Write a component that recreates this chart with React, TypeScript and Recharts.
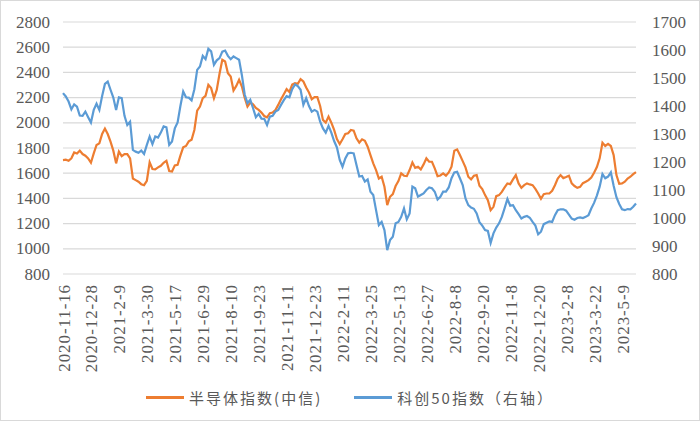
import { LineChart, Line, XAxis, YAxis, CartesianGrid, Legend } from "recharts";

// x tick labels, one every 10 samples (samples are ~3 trading days apart)
const tickDates = [
  "2020-11-16", "2020-12-28", "2021-2-9", "2021-3-30", "2021-5-17", "2021-6-29",
  "2021-8-10", "2021-9-23", "2021-11-11", "2021-12-23", "2022-2-11", "2022-3-25",
  "2022-5-13", "2022-6-27", "2022-8-8", "2022-9-20", "2022-11-8", "2022-12-20",
  "2023-2-8", "2023-3-22", "2023-5-9",
];
const tickPos = [0, 10, 20, 30, 40, 50, 60, 70, 80, 90, 100, 110, 120, 130, 140, 150, 160, 170, 180, 190, 200];

const leftTicks = [800, 1000, 1200, 1400, 1600, 1800, 2000, 2200, 2400, 2600, 2800];
const rightTicks = [800, 900, 1000, 1100, 1200, 1300, 1400, 1500, 1600, 1700];

// 半导体指数(中信), left axis
const semiIndex = [
  1704, 1707, 1699, 1718, 1765, 1757, 1779, 1752, 1739, 1718,
  1683, 1757, 1824, 1837, 1911, 1954, 1911, 1850, 1779, 1678,
  1771, 1736, 1752, 1752, 1718, 1558, 1545, 1532, 1513, 1505,
  1540, 1686, 1633, 1630, 1646, 1659, 1683, 1699, 1617, 1614,
  1662, 1667, 1739, 1805, 1816, 1853, 1866, 1943, 2097, 2129,
  2195, 2214, 2301, 2275, 2195, 2261, 2389, 2500, 2487, 2394,
  2367, 2256, 2293, 2341, 2288, 2200, 2129, 2161, 2147, 2118,
  2102, 2081, 2054, 2044, 2076, 2081, 2102, 2142, 2187, 2227,
  2267, 2245, 2304, 2314, 2309, 2346, 2328, 2280, 2240, 2187,
  2203, 2203, 2134, 2023, 2001, 2049, 2001, 1943, 1871, 1832,
  1869, 1911, 1917, 1943, 1938, 1877, 1842, 1869, 1858, 1810,
  1744, 1678, 1625, 1558, 1572, 1492, 1346, 1413, 1434, 1498,
  1537, 1598, 1580, 1577, 1625, 1686, 1643, 1651, 1630, 1670,
  1718, 1691, 1691, 1638, 1577, 1582, 1598, 1580, 1606, 1651,
  1779, 1789, 1744, 1696, 1646, 1572, 1551, 1580, 1585, 1500,
  1474, 1426, 1386, 1307, 1333, 1418, 1426, 1452, 1487, 1519,
  1513, 1551, 1585, 1519, 1484, 1505, 1519, 1511, 1505, 1476,
  1439, 1397, 1434, 1439, 1439, 1460, 1505, 1558, 1585, 1561,
  1569, 1580, 1519, 1498, 1484, 1492, 1521, 1532, 1545, 1566,
  1604, 1649, 1718, 1842, 1816, 1832, 1816, 1744, 1585, 1516,
  1519, 1532, 1558, 1572, 1593, 1609,
];

// 科创50指数, right axis
const star50 = [
  1446, 1434, 1416, 1388, 1406, 1398, 1366, 1365, 1380, 1360,
  1341, 1386, 1408, 1386, 1436, 1479, 1487, 1458, 1430, 1386,
  1431, 1428, 1365, 1332, 1344, 1243, 1237, 1233, 1241, 1229,
  1261, 1291, 1264, 1291, 1287, 1305, 1327, 1324, 1261, 1273,
  1320, 1341, 1400, 1452, 1431, 1430, 1420, 1460, 1529, 1541,
  1579, 1567, 1604, 1595, 1547, 1563, 1571, 1594, 1598, 1579,
  1567, 1577, 1571, 1565, 1510, 1441, 1410, 1422, 1392, 1360,
  1372, 1355, 1354, 1332, 1362, 1365, 1380, 1386, 1404, 1421,
  1435, 1431, 1460, 1477, 1471, 1458, 1404, 1428, 1400, 1380,
  1386, 1380, 1344, 1320, 1305, 1329, 1305, 1275, 1252, 1207,
  1183, 1213, 1231, 1233, 1231, 1189, 1148, 1150, 1130, 1138,
  1094, 1082, 1028, 975, 986, 957, 885, 921, 933, 981,
  986, 1004, 1034, 995, 1016, 1112, 1106, 1076, 1082, 1088,
  1100, 1109, 1106, 1094, 1066, 1076, 1094, 1094, 1109, 1142,
  1163, 1165, 1142, 1118, 1070, 1046, 1037, 1033, 1016, 985,
  973, 957, 954, 911, 945, 966, 981, 1004, 1035, 1068,
  1044, 1046, 1028, 1014, 998, 1004, 1007, 1001, 986, 973,
  942, 951, 978, 983, 988, 986, 1010, 1028, 1031, 1031,
  1026, 1012, 998, 994, 1000, 1002, 1000, 1004, 1010, 1034,
  1054, 1080, 1112, 1157, 1142, 1148, 1163, 1115, 1074, 1050,
  1031, 1028, 1032, 1031, 1040, 1052,
];

const chartData = semiIndex.map((v, i) => ({ idx: i, semi: v, star: star50[i] }));

const ORANGE = "#ED7D31";
const BLUE = "#5B9BD5";
const TEXT = "#595959";
const SERIF = "Liberation Serif, DejaVu Serif, serif";
const CJK = "Noto Sans CJK SC, sans-serif";

const DateTick = ({ x, y, payload }: any) => (
  <text
    x={x + 1}
    y={y}
    transform={`rotate(-90, ${x + 1}, ${y})`}
    textAnchor="end"
    dominantBaseline="central"
    fill={TEXT}
    style={{ fontFamily: SERIF, fontSize: 17, letterSpacing: 0.9 }}
  >
    {tickDates[tickPos.indexOf(payload.value)]}
  </text>
);

const NumTick = ({ x, y, payload, textAnchor }: any) => (
  <text
    x={x}
    y={y}
    textAnchor={textAnchor}
    dominantBaseline="central"
    fill={TEXT}
    style={{ fontFamily: SERIF, fontSize: 17 }}
  >
    {payload.value}
  </text>
);

const legendItems = [
  { label: "半导体指数(中信)", color: ORANGE },
  { label: "科创50指数（右轴）", color: BLUE },
];

const LegendRow = () => (
  <div
    style={{
      height: 42,
      paddingTop: 14,
      boxSizing: "border-box",
      display: "flex",
      justifyContent: "center",
      alignItems: "flex-start",
      gap: 32,
    }}
  >
    {legendItems.map((it) => (
      <div key={it.label} style={{ display: "flex", alignItems: "center", height: 28 }}>
        <div style={{ width: 38, height: 3, background: it.color, marginRight: 5 }} />
        <span style={{ fontFamily: CJK, fontSize: 15, letterSpacing: 2, color: TEXT }}>{it.label}</span>
      </div>
    ))}
  </div>
);

export default function App() {
  return (
    <div
      style={{
        position: "absolute",
        left: 0,
        top: 0,
        width: 700,
        height: 421,
        background: "#fff",
        boxShadow: "inset 0 0 0 1px #d9d9d9",
      }}
    >
      <LineChart width={700} height={421} data={chartData} margin={{ top: 22, right: 8, bottom: 10, left: 8 }}>
        <CartesianGrid yAxisId="left" vertical={false} stroke="#d9d9d9" strokeWidth={1.2} />
        <XAxis
          dataKey="idx"
          type="number"
          domain={[0, 205]}
          ticks={tickPos}
          interval={0}
          axisLine={false}
          tickLine={false}
          tickSize={0}
          tickMargin={10}
          height={95}
          tick={(p: any) => <DateTick {...p} />}
        />
        <YAxis
          yAxisId="left"
          domain={[800, 2800]}
          ticks={leftTicks}
          width={55}
          axisLine={false}
          tickLine={false}
          tickSize={0}
          tickMargin={13}
          tick={(p: any) => <NumTick {...p} />}
        />
        <YAxis
          yAxisId="right"
          orientation="right"
          domain={[800, 1700]}
          ticks={rightTicks}
          width={56}
          axisLine={false}
          tickLine={false}
          tickSize={0}
          tickMargin={16}
          tick={(p: any) => <NumTick {...p} />}
        />
        <Legend verticalAlign="bottom" height={42} content={() => <LegendRow />} />
        <Line
          yAxisId="left"
          dataKey="semi"
          stroke={ORANGE}
          strokeWidth={2.2}
          dot={false}
          activeDot={false}
          type="linear"
          isAnimationActive={false}
        />
        <Line
          yAxisId="right"
          dataKey="star"
          stroke={BLUE}
          strokeWidth={2.2}
          dot={false}
          activeDot={false}
          type="linear"
          isAnimationActive={false}
        />
      </LineChart>
    </div>
  );
}
